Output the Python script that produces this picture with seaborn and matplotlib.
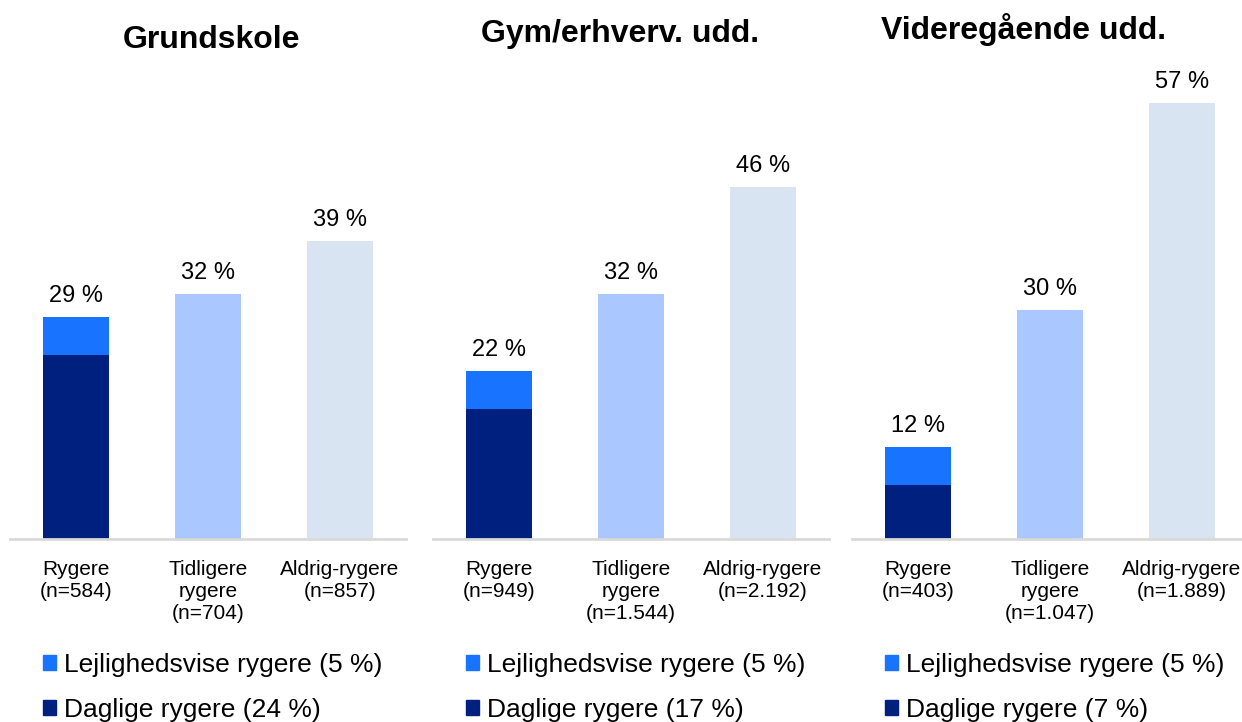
import matplotlib
matplotlib.use("Agg")
import matplotlib.pyplot as plt
from matplotlib.patches import Patch
import seaborn as sns
import pandas as pd

sns.set_theme(style="white")
plt.rcParams['font.family'] = ['Liberation Sans', 'DejaVu Sans']
plt.rcParams['text.color'] = 'black'
plt.rcParams['xtick.color'] = 'black'

panel_titles = ["Grundskole", "Gym/erhverv. udd.", "Videregående udd."]
categories = ["Rygere", "Tidligere rygere", "Aldrig-rygere"]
totals = [[29, 32, 39], [22, 32, 46], [12, 30, 57]]
daglige = [24, 17, 7]
lejlighedsvise = [5, 5, 5]
n_values = [["584", "704", "857"], ["949", "1.544", "2.192"], ["403", "1.047", "1.889"]]

c_daglige = "#00207F"
c_lejl = "#1874FF"
c_tidl = "#AAC8FF"
c_aldrig = "#D8E4F2"

W, H = 1242, 722
fig = plt.figure(figsize=(W / 100, H / 100), dpi=100)

ax_lefts = [10, 433, 852]
ax_w = 396
base_y = 539
top_y = 80
title_pos = [(212, 40), (620, 34), (1024, 30)]
legend_x = [43, 466, 885]

for i in range(3):
    ax = fig.add_axes([ax_lefts[i] / W, (H - base_y) / H, ax_w / W, (base_y - top_y) / H])
    df = pd.DataFrame({"cat": categories, "val": totals[i]})
    sns.barplot(data=df, x="cat", y="val", hue="cat", order=categories,
                palette=[c_lejl, c_tidl, c_aldrig], width=0.5, legend=False,
                ax=ax, saturation=1, linewidth=0)
    df2 = pd.DataFrame({"cat": [categories[0]], "val": [daglige[i]]})
    sns.barplot(data=df2, x="cat", y="val", order=categories, color=c_daglige,
                width=0.5, ax=ax, saturation=1, linewidth=0)
    ax.set_xlim(-0.5, 2.5)
    ax.set_ylim(0, 60)
    for j, v in enumerate(totals[i]):
        ax.annotate(f"{v} %", (j, v), xytext=(0, 7), textcoords="offset points",
                    ha="center", va="bottom", fontsize=17, color="black")
    labels = [f"Rygere\n(n={n_values[i][0]})",
              f"Tidligere\nrygere\n(n={n_values[i][1]})",
              f"Aldrig-rygere\n(n={n_values[i][2]})"]
    ax.set_xticks(range(3))
    ax.set_xticklabels(labels, fontsize=15, linespacing=1.2, color="black")
    ax.tick_params(axis="x", length=0, pad=15)
    ax.set_yticks([])
    ax.set_xlabel("")
    ax.set_ylabel("")
    for s in ["top", "left", "right"]:
        ax.spines[s].set_visible(False)
    ax.spines["bottom"].set_color("#D9D9D9")
    ax.spines["bottom"].set_linewidth(2)
    fig.text(title_pos[i][0] / W, 1 - title_pos[i][1] / H, panel_titles[i],
             ha="center", va="center", fontsize=23, fontweight="bold", color="black")
    handles = [Patch(color=c_lejl), Patch(color=c_daglige)]
    leg_labels = [f"Lejlighedsvise rygere ({lejlighedsvise[i]} %)",
                  f"Daglige rygere ({daglige[i]} %)"]
    leg = ax.legend(handles, leg_labels, loc="upper left",
                    bbox_to_anchor=(legend_x[i] / W, 1 - 653 / H),
                    bbox_transform=fig.transFigure, frameon=False, fontsize=19,
                    handlelength=0.5, handleheight=0.5, handletextpad=0.3,
                    labelspacing=0.8, borderpad=0, borderaxespad=0)
    for t in leg.get_texts():
        t.set_color("black")

fig.savefig("out.png", dpi=100)
